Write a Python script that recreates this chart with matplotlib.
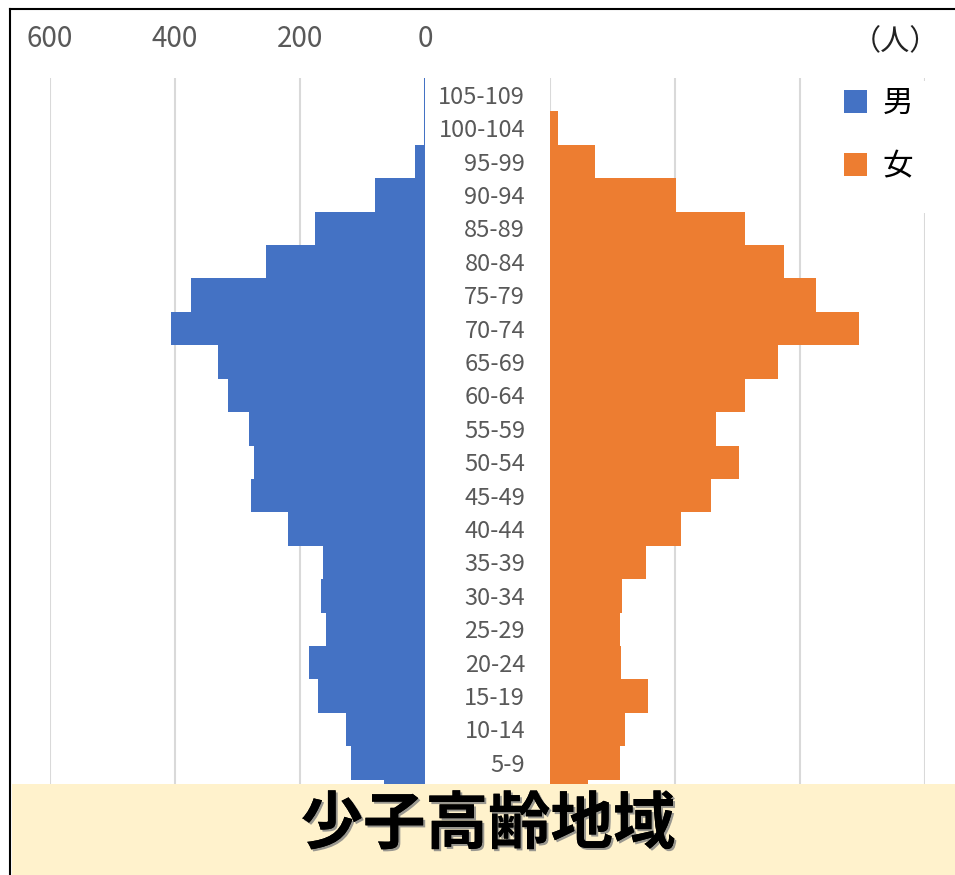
import numpy as np
import matplotlib
matplotlib.use("Agg")
import matplotlib.pyplot as plt
from matplotlib.patches import Patch, Rectangle
from matplotlib.lines import Line2D
import matplotlib.patheffects as pe

plt.rcParams['font.family'] = ['Noto Sans CJK JP', 'DejaVu Sans']

# data (persons), bottom row first
ages = ['0-4', '5-9', '10-14', '15-19', '20-24', '25-29', '30-34', '35-39',
        '40-44', '45-49', '50-54', '55-59', '60-64', '65-69', '70-74',
        '75-79', '80-84', '85-89', '90-94', '95-99', '100-104', '105-109']
male = [65, 118, 127, 172, 186, 158, 167, 163, 219, 279, 274, 281, 316,
        331, 406, 374, 255, 176, 80, 16, 2, 1]
female = [60, 112, 120, 156, 113, 112, 115, 154, 210, 257, 303, 265, 312,
          364, 495, 426, 374, 312, 202, 72, 13, 0]
ticks = [0, 200, 400, 600]

blue = '#4472C4'
orange = '#ED7D31'
grid_c = '#D9D9D9'
txt_c = '#595959'

W, H = 955, 875
fig = plt.figure(figsize=(W / 100, H / 100), dpi=100)

bot = 1 - 813 / H
hgt = 735 / H
ax_m = fig.add_axes([50 / W, bot, 375 / W, hgt])
ax_f = fig.add_axes([550 / W, bot, 375 / W, hgt])

y = np.arange(len(ages))

ax_m.barh(y, male, height=1.0, color=blue, zorder=2)
ax_f.barh(y, female, height=1.0, color=orange, zorder=2)

for ax in (ax_m, ax_f):
    ax.set_ylim(-0.5, len(ages) - 0.5)
    ax.set_xticks(ticks)
    ax.grid(axis='x', color=grid_c, linewidth=1.5, zorder=0)
    ax.set_axisbelow(True)
    for s in ax.spines.values():
        s.set_visible(False)

ax_m.set_xlim(600, 0)
ax_f.set_xlim(0, 600)

ax_m.set_yticks([])
ax_m.tick_params(axis='x', top=True, labeltop=True, bottom=False,
                 labelbottom=False, length=0, pad=17, labelsize=20,
                 labelcolor=txt_c)

ax_f.set_xticklabels([])
ax_f.tick_params(axis='x', length=0, bottom=False)
ax_f.set_yticks(y)
ax_f.set_yticklabels(ages)
ax_f.tick_params(axis='y', length=0, pad=18, labelsize=17, labelcolor=txt_c)
# the 0-4 label sits under the banner in the original
ax_f.get_yticklabels()[0].set_visible(False)

# unit label
fig.text(895 / W, 1 - 42 / H, '（人）', ha='center', va='center',
         fontsize=21, color='#222222')

# white area behind the legend
fig.add_artist(Rectangle((835 / W, 1 - 213 / H), 110 / W, 132 / H,
                         facecolor='white', edgecolor='none',
                         transform=fig.transFigure, zorder=4))
handles = [Patch(facecolor=blue), Patch(facecolor=orange)]
leg = fig.legend(handles, ['男', '女'], loc='upper left',
                 bbox_to_anchor=(838 / W, 1 - 82 / H), borderaxespad=0,
                 frameon=False, fontsize=22, handlelength=0.75,
                 handleheight=0.75, handletextpad=0.5, labelspacing=1.05,
                 borderpad=0.2)
leg.set_zorder(5)

# outer frame
fig.add_artist(Line2D([10 / W, 10 / W], [0, 1 - 9 / H], color='black',
                      linewidth=1.5, transform=fig.transFigure, zorder=20))
fig.add_artist(Line2D([10 / W, 1], [1 - 9 / H, 1 - 9 / H], color='black',
                      linewidth=1.5, transform=fig.transFigure, zorder=20))

# bottom banner
fig.add_artist(Rectangle((12 / W, 0), 1 - 12 / W, 91 / H,
                         facecolor='#FFF2CC', edgecolor='none',
                         transform=fig.transFigure, zorder=10))
fig.text(488 / W, 1 - 825 / H, '少子高齢地域', ha='center', va='center',
         fontsize=45, fontweight='bold', color='black', zorder=11,
         path_effects=[pe.withSimplePatchShadow(offset=(1.5, -1.5),
                                                shadow_rgbFace='#808080',
                                                alpha=0.8),
                       pe.Normal()])

fig.savefig('out.png', dpi=100)
